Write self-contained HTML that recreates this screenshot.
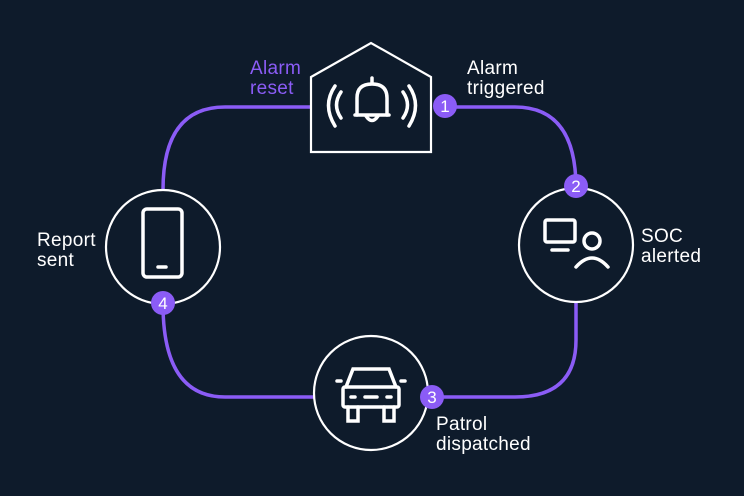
<!DOCTYPE html>
<html><head><style>
html,body{margin:0;padding:0;background:#0d1b2a;}
svg{display:block}
text{font-family:"Liberation Sans",sans-serif;font-size:19px;letter-spacing:0.3px;}
</style></head><body>
<svg width="744" height="496" viewBox="0 0 744 496">
<rect width="744" height="496" fill="#0e1b2b"/>
<g fill="none" stroke="#8b5cf6" stroke-width="3.5">
<path d="M311 107 H225 Q163 107 163 190"/>
<path d="M445 107 H515 Q576 107 576 188"/>
<path d="M576 302 V340 Q576 397 515 397 H428"/>
<path d="M314 397 H225 Q163 397 163 304"/>
</g>
<g fill="none" stroke="#fff" stroke-width="2.2">
<polygon points="311,77 371,43 431,77 431,152 311,152" fill="#0e1b2b"/>
<circle cx="576" cy="245" r="57" fill="#0e1b2b"/>
<circle cx="371" cy="393" r="57" fill="#0e1b2b"/>
<circle cx="163" cy="247" r="57" fill="#0e1b2b"/>
</g>
<g fill="none" stroke="#fff" stroke-width="3.5" stroke-linecap="round">
<line x1="372" y1="78" x2="372" y2="83"/>
<path d="M357 115 V98 Q357 84 372 84 Q387 84 387 98 V115"/>
<line x1="355" y1="115" x2="389" y2="115"/>
<path d="M366 116 Q372 125 378 116"/>
<path d="M341 92 Q332 105 341 118"/>
<path d="M335 86 Q322 105 335 126"/>
<path d="M403 92 Q412 105 403 118"/>
<path d="M409 86 Q422 105 409 126"/>
<rect x="143" y="209" width="39" height="68" rx="4"/>
<line x1="158" y1="267" x2="166" y2="267"/>
<rect x="545" y="220" width="30" height="22" rx="2"/>
<line x1="552" y1="250" x2="568" y2="250"/>
<circle cx="592" cy="241" r="8"/>
<path d="M576 267 Q592 249 608 267"/>
<path d="M346 387 L353 369 H389 L396 387"/>
<rect x="343" y="387" width="56" height="20" rx="2"/>
<path d="M348 407 V421 H358 V407 M384 407 V421 H394 V407"/>
<line x1="337" y1="381" x2="341" y2="381"/>
<line x1="401" y1="381" x2="405" y2="381"/>
<line x1="351" y1="397" x2="355" y2="397"/>
<line x1="365" y1="397" x2="377" y2="397"/>
<line x1="387" y1="397" x2="391" y2="397"/>
</g>
<g fill="#8b5cf6">
<circle cx="445" cy="106" r="12"/>
<circle cx="576" cy="186" r="12"/>
<circle cx="432" cy="397" r="12"/>
<circle cx="163" cy="303" r="12"/>
</g>
<g fill="#fff" text-anchor="middle">
<text x="445" y="112" style="font-size:17px;letter-spacing:0">1</text>
<text x="576" y="192" style="font-size:17px;letter-spacing:0">2</text>
<text x="432" y="403" style="font-size:17px;letter-spacing:0">3</text>
<text x="163" y="309" style="font-size:17px;letter-spacing:0">4</text>
</g>
<g fill="#fff">
<text x="250" y="74" fill="#8b5cf6">Alarm</text>
<text x="250" y="94" fill="#8b5cf6">reset</text>
<text x="467" y="74">Alarm</text>
<text x="467" y="94">triggered</text>
<text x="641" y="242">SOC</text>
<text x="641" y="262">alerted</text>
<text x="436" y="430">Patrol</text>
<text x="436" y="450">dispatched</text>
<text x="37" y="246">Report</text>
<text x="37" y="266">sent</text>
</g>
</svg>
</body></html>
